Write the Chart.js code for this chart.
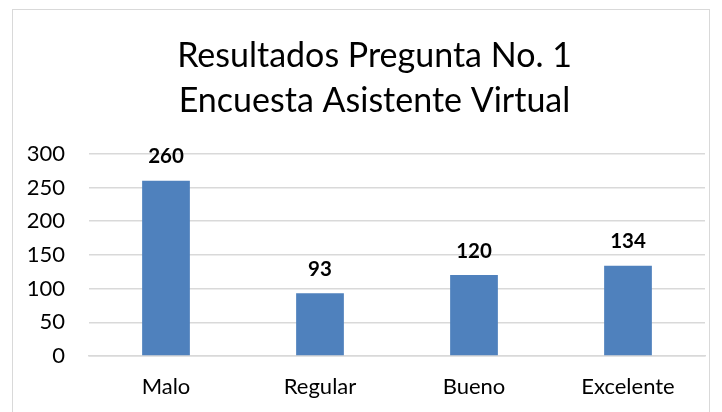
<!DOCTYPE html>
<html>
<head>
<meta charset="utf-8">
<script src="https://cdn.jsdelivr.net/npm/chart.js@4/dist/chart.umd.min.js"></script>
<style>
  html, body { margin: 0; padding: 0; background: #fff; }
  #wrap { position: relative; width: 722px; height: 412px; }
  #frame { position: absolute; left: 12px; top: 9px; width: 698px; height: 410px; border: 1px solid #d9d9d9; box-sizing: border-box; }
  canvas { position: absolute; left: 0; top: 0; }
</style>
</head>
<body>
<div id="wrap">
  <div id="frame"></div>
  <canvas id="chart" width="722" height="412"></canvas>
</div>
<script>
// datos
const categories = ['Malo', 'Regular', 'Bueno', 'Excelente'];
const values = [260, 93, 120, 134];
const titleLines = ['Resultados Pregunta No. 1', 'Encuesta Asistente Virtual'];
const yTicks = [0, 50, 100, 150, 200, 250, 300];

const FONT = 'Lato, "Open Sans", sans-serif';

// etiquetas de valor encima de cada barra
const barLabels = {
  id: 'barLabels',
  afterDatasetsDraw(chart) {
    const ctx = chart.ctx;
    const meta = chart.getDatasetMeta(0);
    ctx.save();
    ctx.font = 'bold 20.5px ' + FONT;
    ctx.fillStyle = '#000';
    ctx.textAlign = 'center';
    ctx.textBaseline = 'middle';
    meta.data.forEach((bar, i) => {
      ctx.fillText(String(values[i]), bar.x, bar.y - 24);
    });
    ctx.restore();
  }
};

// el titulo del original esta algo corrido a la derecha
const shiftTitle = {
  id: 'shiftTitle',
  afterLayout(chart) {
    if (chart.titleBlock) chart.titleBlock.left = 44;
  }
};

new Chart(document.getElementById('chart'), {
  type: 'bar',
  data: {
    labels: categories,
    datasets: [{
      data: values,
      backgroundColor: '#4f81bd',
      borderWidth: 0,
      barPercentage: 0.62,
      categoryPercentage: 0.5
    }]
  },
  options: {
    responsive: false,
    animation: false,
    layout: { padding: { left: 0, right: 17, top: 34, bottom: 0 } },
    plugins: {
      legend: { display: false },
      tooltip: { enabled: false },
      title: {
        display: true,
        text: titleLines,
        color: '#000',
        font: { family: FONT, size: 34, weight: 'normal', lineHeight: 1.32 },
        padding: { top: 0, bottom: 30 }
      }
    },
    scales: {
      y: {
        min: 0,
        max: 300,
        afterBuildTicks: s => { s.ticks = yTicks.map(v => ({ value: v })); },
        afterFit: s => { s.width = 89; },
        border: { display: false },
        grid: { color: '#d9d9d9', lineWidth: 1.4, drawTicks: false },
        ticks: { color: '#000', padding: 24, font: { family: FONT, size: 22 } }
      },
      x: {
        afterFit: s => { s.height = 56; },
        border: { color: '#d9d9d9', width: 1.4 },
        grid: { display: false, drawTicks: false },
        ticks: { color: '#000', padding: 18, font: { family: FONT, size: 22 } }
      }
    }
  },
  plugins: [barLabels, shiftTitle]
});
</script>
</body>
</html>
